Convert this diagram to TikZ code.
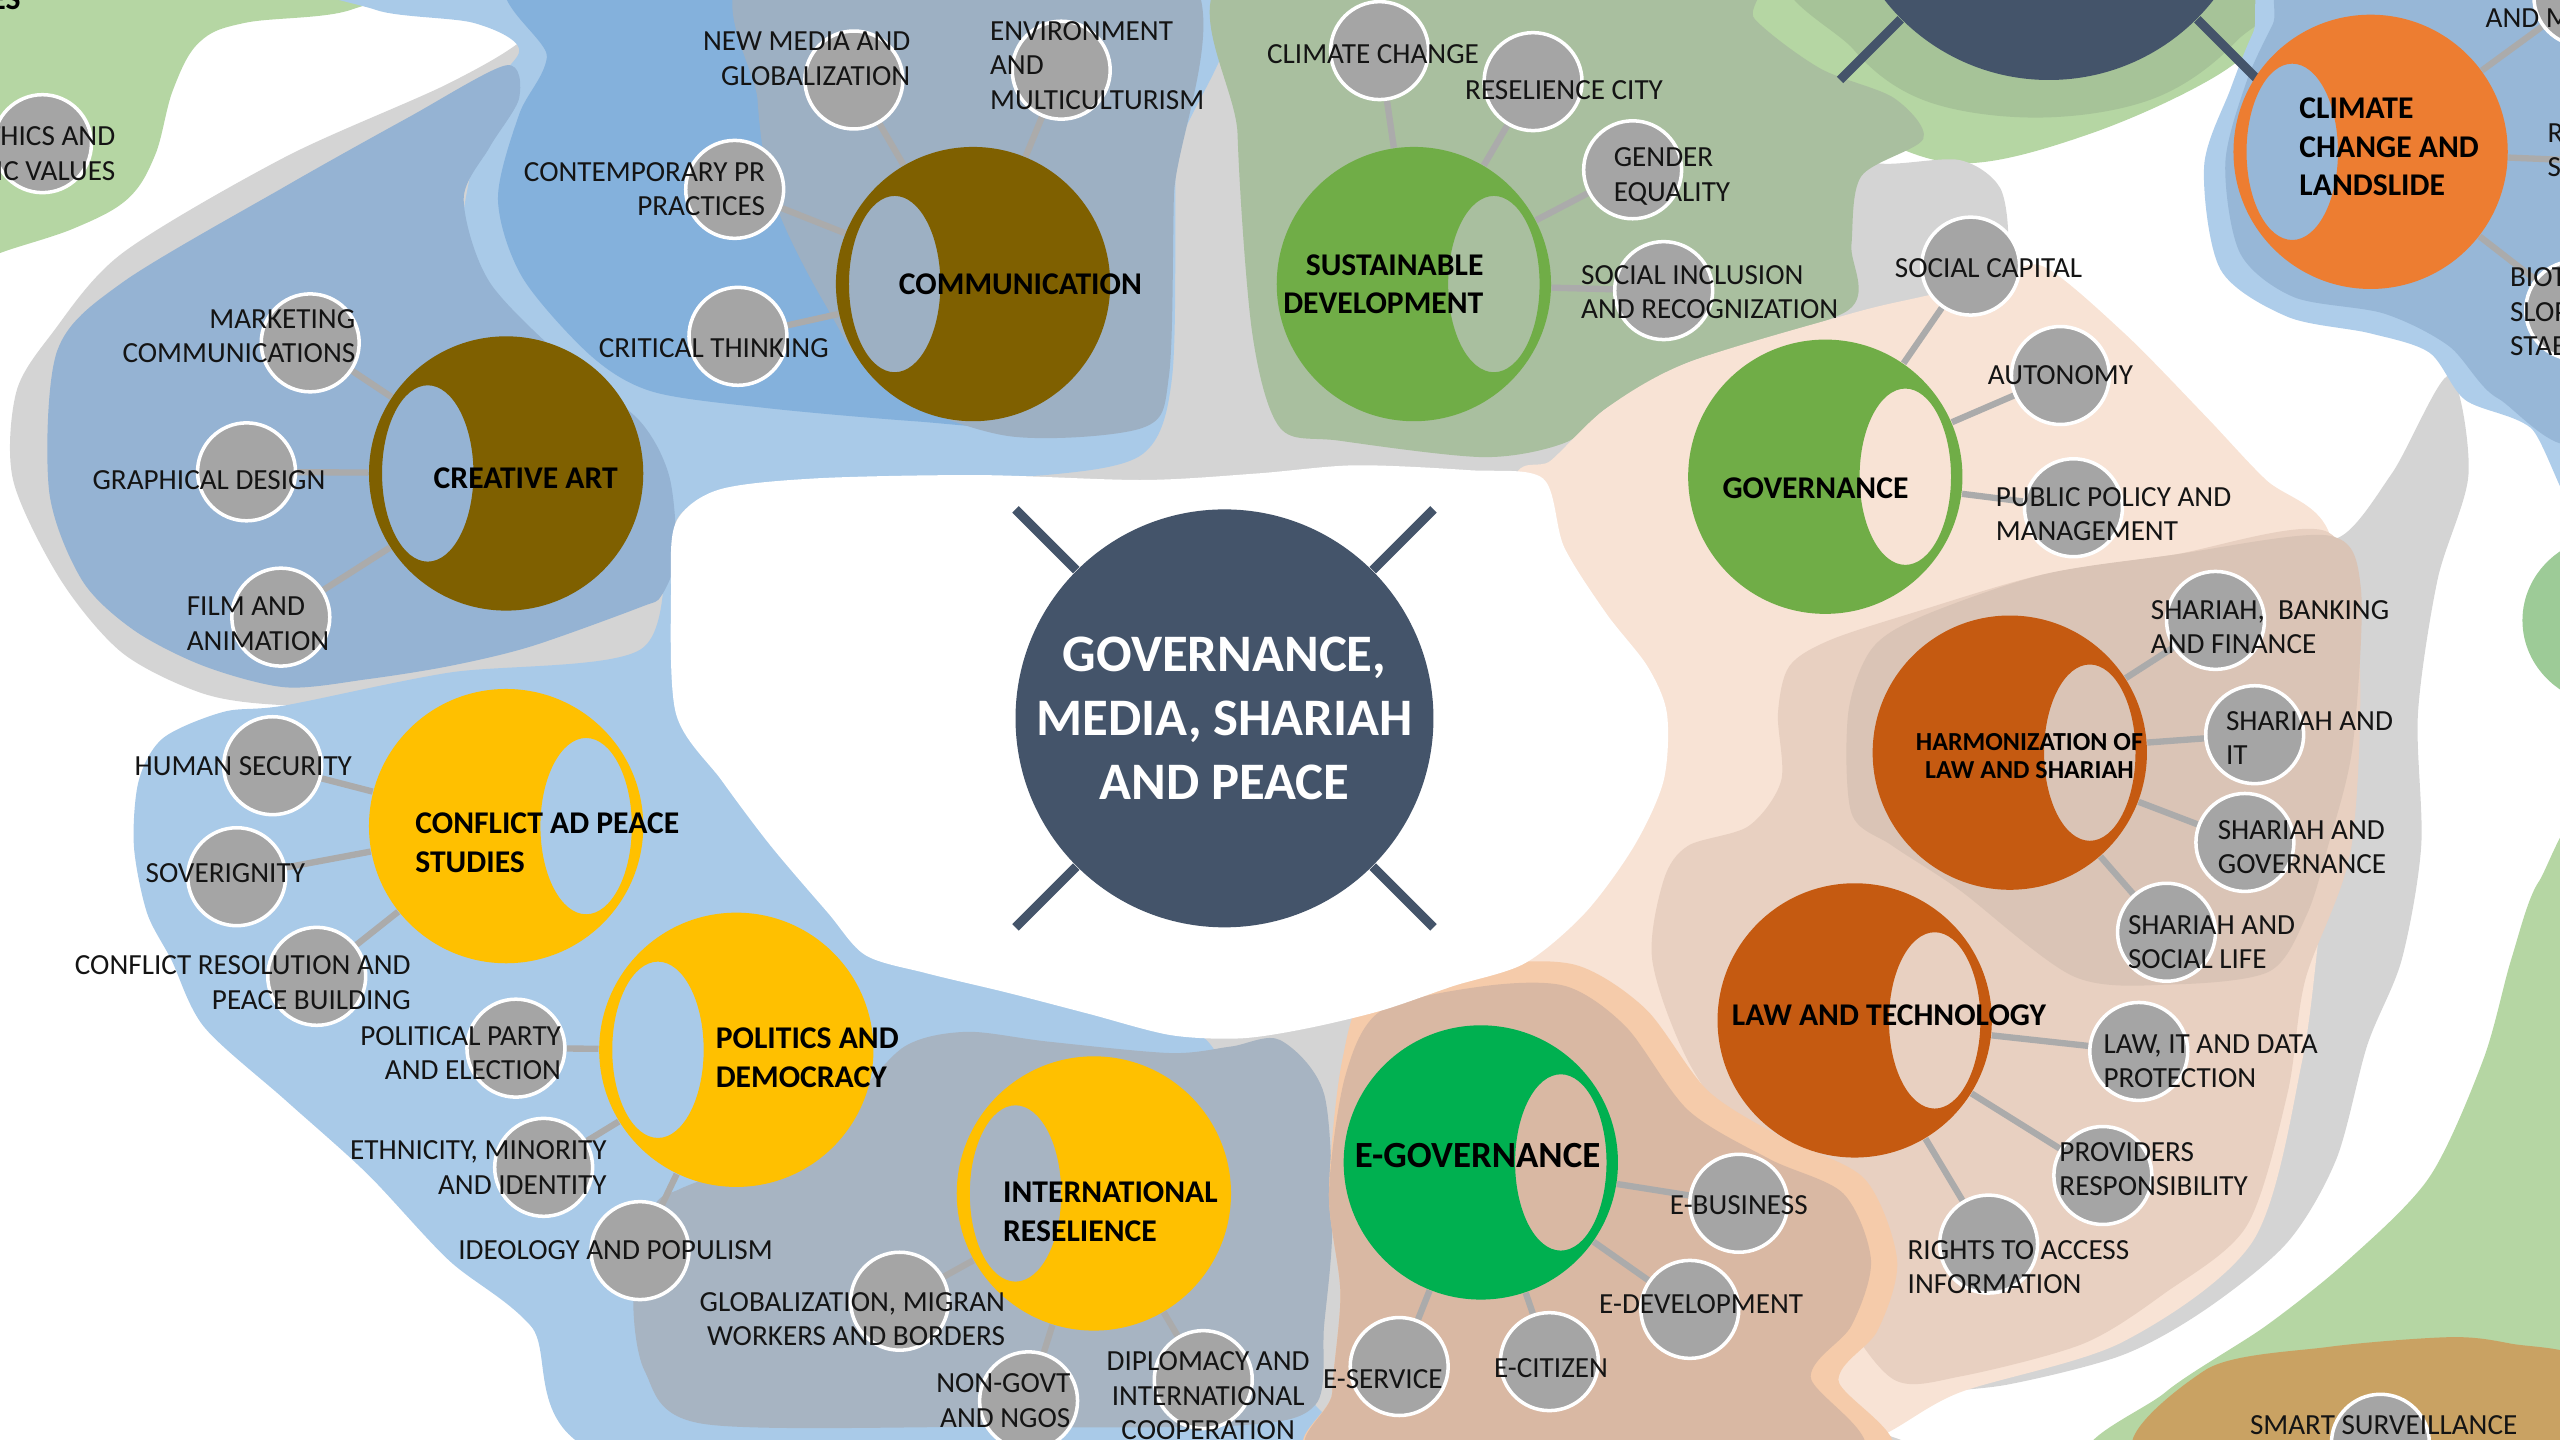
\documentclass[tikz,border=0pt]{standalone}
\usepackage{fontspec}
\setmainfont{Carlito}
\usetikzlibrary{calc}
\pgfdeclarelayer{regions}
\pgfdeclarelayer{links}
\pgfsetlayers{regions,links,main}

\definecolor{HubClr}{HTML}{44546A}
\definecolor{BrownClr}{HTML}{7F6000}
\definecolor{LeafClr}{HTML}{70AD47}
\definecolor{EGovClr}{HTML}{00B050}
\definecolor{OrangeClr}{HTML}{ED7D31}
\definecolor{RustClr}{HTML}{C55A11}
\definecolor{GoldClr}{HTML}{FFC000}
\definecolor{SubClr}{HTML}{A5A5A5}
\definecolor{LinkClr}{HTML}{ABABAB}
\definecolor{TextClr}{HTML}{141414}
\definecolor{MintArea}{HTML}{B5D6A3}
\definecolor{MossArea}{HTML}{A6C398}
\definecolor{GreyArea}{HTML}{D4D4D4}
\definecolor{SkyArea}{HTML}{A9CAE8}
\definecolor{SteelArea}{HTML}{95B3D3}
\definecolor{MidArea}{HTML}{84B1DC}
\definecolor{SlateArea}{HTML}{9DB0C3}
\definecolor{SageArea}{HTML}{A9BF9F}
\definecolor{PeachArea}{HTML}{F8E3D5}
\definecolor{SandArea}{HTML}{E8D0C1}
\definecolor{TanArea}{HTML}{DAC4B6}
\definecolor{IntlArea}{HTML}{A7B4C2}
\definecolor{ApricotArea}{HTML}{F5CBAA}
\definecolor{ClayArea}{HTML}{D9B8A3}
\definecolor{CloudArea}{HTML}{AECDEA}
\definecolor{LakeArea}{HTML}{97B7D7}
\definecolor{OchreArea}{HTML}{C9A263}
\definecolor{FernArea}{HTML}{9DCB97}

\newcommand\pxu{0.016327cm}
\newcommand\ring[3]{\fill[#2, even odd rule] (#1.center) circle[radius=84] ($(#1.center)+(#3,0)$) ellipse[x radius=28, y radius=54];}

\tikzset{
  link/.style={draw=LinkClr, line width=1.8pt},
  spoke/.style={draw=HubClr, line width=2.6pt},
  hub/.style={circle, fill=HubClr, minimum size=256*\pxu, inner sep=0pt},
  topic/.style={circle, minimum size=168*\pxu, inner sep=0pt},
  sub/.style={circle, fill=SubClr, draw=white, line width=1pt, minimum size=60*\pxu, inner sep=0pt},
  toptext/.style={font=\fontsize{9}{11}\selectfont\bfseries, text=black, inner sep=0pt},
  subtext/.style={font=\fontsize{8.3}{9.8}\selectfont, text=TextClr, inner sep=0pt},
}

\begin{document}
\begin{tikzpicture}[x=\pxu, y=-\pxu]
\useasboundingbox (0,0) rectangle (1568,882);
\clip (0,0) rectangle (1568,882);

\begin{pgfonlayer}{regions}
\fill[MintArea] plot[smooth cycle, tension=.6] coordinates {(-20,-20) (250,-20) (215,6) (150,14) (122,26) (106,55) (95,95) (78,122) (45,140) (0,155) (-20,165)};
\fill[MintArea] plot[smooth cycle, tension=.6] coordinates {(740,-20) (1430,-20) (1400,12) (1355,48) (1280,82) (1205,100) (1150,85) (1100,55) (1060,22) (980,8) (850,6) (760,8)};
\fill[MossArea] plot[smooth cycle, tension=.6] coordinates {(1110,-20) (1395,-20) (1370,25) (1320,60) (1250,72) (1180,62) (1135,30)};
\fill[GreyArea] plot[smooth cycle, tension=.5] coordinates {(325,20) (345,-20) (1000,-20) (1060,40) (1110,85) (1150,100) (1200,98) (1225,115) (1230,150) (1222,178) (1300,235) (1385,305) (1430,330) (1465,290) (1500,230) (1512,290) (1493,355) (1481,437) (1483,518) (1471,588) (1450,640) (1431,710) (1401,761) (1351,802) (1300,830) (1230,848) (1170,855) (1135,870) (1130,895) (420,895) (420,600) (380,470) (260,432) (175,432) (125,425) (75,400) (37,355) (8,294) (10,240) (32,204) (75,155) (175,96) (275,51)};
\fill[SkyArea] plot[smooth cycle, tension=.5] coordinates {(195,-20) (722,-20) (720,100) (718,230) (700,278) (640,291) (540,293) (470,300) (420,312) (400,340) (360,290) (300,230) (282,150) (300,60) (318,30) (290,14) (230,6)};
\fill[SkyArea] plot[smooth cycle, tension=.5] coordinates {(100,452) (137,436) (175,432) (275,412) (392,398) (412,330) (450,340) (520,470) (580,570) (660,610) (720,628) (745,645) (775,720) (800,850) (808,895) (385,895) (325,812) (275,772) (225,719) (175,674) (125,629) (105,588) (90,559) (82,518) (85,478)};
\fill[SteelArea] plot[smooth cycle, tension=.5] coordinates {(175,114) (250,72) (310,40) (318,60) (300,90) (284,122) (300,173) (350,224) (392,258) (410,292) (414,340) (405,365) (392,372) (325,396) (275,408) (225,416) (175,421) (125,408) (82,386) (50,355) (30,300) (35,215) (75,173)};
\fill[MidArea] plot[smooth cycle, tension=.5] coordinates {(330,-20) (705,-20) (705,150) (700,240) (640,262) (560,258) (470,250) (400,240) (362,218) (320,170) (305,122) (318,70) (335,35)};
\fill[SlateArea] plot[smooth cycle, tension=.5] coordinates {(465,-20) (722,-20) (719,120) (716,230) (700,262) (617,267) (542,238) (504,184) (474,122) (464,61)};
\fill[SageArea] plot[smooth cycle, tension=.5] coordinates {(760,-20) (1055,-20) (1075,12) (1115,42) (1160,60) (1178,85) (1140,108) (1134,150) (1132,190) (1034,222) (984,250) (959,271) (909,280) (821,270) (784,262) (767,204) (758,82)};
\fill[PeachArea] plot[smooth cycle, tension=.5] coordinates {(925,300) (950,282) (984,250) (1034,222) (1134,192) (1176,182) (1222,172) (1251,163) (1301,204) (1351,255) (1388,294) (1426,325) (1442,420) (1422,560) (1410,650) (1380,760) (1300,822) (1200,853) (1150,880) (1110,880) (1000,700) (940,620) (915,450)};
\fill[SandArea] plot[smooth cycle, tension=.5] coordinates {(1096,408) (1121,392) (1176,374) (1251,352) (1330,340) (1426,326) (1445,400) (1440,520) (1412,600) (1401,670) (1376,751) (1326,792) (1276,823) (1201,843) (1160,845) (1125,800) (1080,720) (1034,650) (1012,588) (1019,539) (1034,518) (1071,506) (1091,478) (1089,437)};
\fill[TanArea] plot[smooth cycle, tension=.5] coordinates {(1132,437) (1146,398) (1176,378) (1251,352) (1330,340) (1426,328) (1446,360) (1441,457) (1426,518) (1413,560) (1390,595) (1330,603) (1270,598) (1200,545) (1159,518) (1134,498)};
\fill[IntlArea] plot[smooth cycle, tension=.5] coordinates {(388,790) (400,740) (417,728) (467,708) (517,678) (554,641) (592,632) (642,638) (717,645) (754,641) (784,637) (811,670) (816,751) (811,812) (806,860) (760,873) (600,874) (430,872) (395,840)};
\fill[ApricotArea] plot[smooth cycle, tension=.5] coordinates {(814,731) (822,650) (840,606) (909,591) (965,591) (1008,618) (1046,668) (1092,697) (1142,722) (1162,772) (1150,815) (1126,845) (1145,895) (819,895) (816,853) (821,792)};
\fill[ClayArea] plot[smooth cycle, tension=.5] coordinates {(814,731) (824,659) (846,619) (909,604) (959,604) (996,629) (1034,680) (1084,710) (1129,731) (1146,772) (1134,812) (1109,843) (1129,895) (819,895) (816,853) (821,792)};
\fill[CloudArea] plot[smooth cycle, tension=.5] coordinates {(1380,20) (1401,-20) (1585,-20) (1585,305) (1550,262) (1510,245) (1488,216) (1451,204) (1401,194) (1360,165) (1350,102) (1366,55)};
\fill[LakeArea] plot[smooth cycle, tension=.5] coordinates {(1392,15) (1410,-20) (1585,-20) (1585,258) (1530,244) (1500,212) (1460,192) (1405,182) (1372,155) (1363,100) (1376,50)};
\fill[FernArea] (1600,380) ellipse[x radius=55, y radius=52];
\fill[MintArea] plot[smooth cycle, tension=.5] coordinates {(1585,520) (1555,540) (1538,588) (1521,649) (1488,721) (1438,772) (1388,812) (1326,853) (1290,895) (1585,895)};
\fill[OchreArea] plot[smooth cycle, tension=.5] coordinates {(1316,895) (1351,839) (1426,825) (1501,819) (1538,823) (1585,835) (1585,895)};
\fill[white] plot[smooth cycle, tension=.5] coordinates {(414,320) (440,300) (500,293) (600,291) (700,294) (770,290) (830,285) (900,288) (945,293) (958,335) (984,376) (1009,408) (1021,437) (1019,478) (1001,518) (971,559) (934,590) (890,604) (846,619) (800,630) (760,636) (717,634) (667,621) (617,608) (567,596) (530,585) (507,559) (472,518) (442,478) (414,437) (411,361)};
\end{pgfonlayer}

\node[hub] (hub) at (750,440) {};
\node[hub] (tophub) at (1255,-79) {};
\coordinate (hubNW) at (622,312);
\coordinate (hubNE) at (878,312);
\coordinate (hubSW) at (622,568);
\coordinate (hubSE) at (878,568);
\coordinate (topSW) at (1127,49);
\coordinate (topSE) at (1383,49);

\node[topic] (comm) at (596,174) {};
\node[topic] (creative) at (310,290) {};
\node[topic] (sust) at (866,174) {};
\node[topic] (gov) at (1118,292) {};
\node[topic] (climate) at (1452,93) {};
\node[topic] (harm) at (1231,461) {};
\node[topic] (lawtech) at (1136,625) {};
\node[topic] (conflict) at (310,506) {};
\node[topic] (politics) at (451,643) {};
\node[topic] (intl) at (670,731) {};
\node[topic] (egov) at (907,712) {};

\ring{comm}{BrownClr}{-48}
\ring{creative}{BrownClr}{-48}
\ring{sust}{LeafClr}{49}
\ring{gov}{LeafClr}{49}
\ring{climate}{OrangeClr}{-48}
\ring{harm}{RustClr}{49}
\ring{lawtech}{RustClr}{49}
\ring{conflict}{GoldClr}{49}
\ring{politics}{GoldClr}{-48}
\ring{intl}{GoldClr}{-48}
\ring{egov}{EGovClr}{49}

\node[sub] (newmedia) at (523,49) {};
\node[sub] (environ) at (650,43) {};
\node[sub] (contemp) at (450,116) {};
\node[sub] (critical) at (452,206) {};
\node[sub] (marketing) at (190,210) {};
\node[sub] (graphic) at (151,289) {};
\node[sub] (film) at (172,378) {};
\node[sub] (ethics) at (26,88) {};
\node[sub] (climchg) at (845,31) {};
\node[sub] (resilcity) at (939,50) {};
\node[sub] (gender) at (1000,104) {};
\node[sub] (inclusion) at (1019,178) {};
\node[sub] (socialcap) at (1207,163) {};
\node[sub] (autonomy) at (1262,230) {};
\node[sub] (policy) at (1270,311) {};
\node[sub] (andm) at (1582,-2) {};
\node[sub] (biot) at (1577,190) {};
\coordinate (offR) at (1620,100);
\node[sub] (banking) at (1357,380) {};
\node[sub] (sharit) at (1381,450) {};
\node[sub] (sharigov) at (1375,516) {};
\node[sub] (sharisoc) at (1327,571) {};
\node[sub] (lawit) at (1310,644) {};
\node[sub] (providers) at (1288,720) {};
\node[sub] (rights) at (1218,762) {};
\node[sub] (ebusiness) at (1065,737) {};
\node[sub] (edevel) at (1035,802) {};
\node[sub] (ecitizen) at (949,834) {};
\node[sub] (eservice) at (857,837) {};
\node[sub] (glob) at (551,797) {};
\node[sub] (ngo) at (630,858) {};
\node[sub] (diplomacy) at (737,845) {};
\node[sub] (ideology) at (392,766) {};
\node[sub] (ethnic) at (333,715) {};
\node[sub] (party) at (316,642) {};
\node[sub] (conres) at (194,598) {};
\node[sub] (sovereign) at (145,537) {};
\node[sub] (humansec) at (167,469) {};
\node[sub] (smart) at (1458,884) {};

\begin{pgfonlayer}{links}
\draw[spoke] (hubNW) -- (hub) (hubNE) -- (hub) (hubSW) -- (hub) (hubSE) -- (hub);
\draw[spoke] (topSW) -- (tophub) (topSE) -- (tophub);
\draw[link] (comm) -- (newmedia) (comm) -- (environ) (comm) -- (contemp) (comm) -- (critical);
\draw[link] (creative) -- (marketing) (creative) -- (graphic) (creative) -- (film);
\draw[link] (sust) -- (climchg) (sust) -- (resilcity) (sust) -- (gender) (sust) -- (inclusion);
\draw[link] (gov) -- (socialcap) (gov) -- (autonomy) (gov) -- (policy);
\draw[link] (climate) -- (andm) (climate) -- (offR) (climate) -- (biot);
\draw[link] (harm) -- (banking) (harm) -- (sharit) (harm) -- (sharigov) (harm) -- (sharisoc);
\draw[link] (lawtech) -- (lawit) (lawtech) -- (providers) (lawtech) -- (rights);
\draw[link] (egov) -- (ebusiness) (egov) -- (edevel) (egov) -- (ecitizen) (egov) -- (eservice);
\draw[link] (intl) -- (glob) (intl) -- (ngo) (intl) -- (diplomacy);
\draw[link] (politics) -- (party) (politics) -- (ethnic) (politics) -- (ideology);
\draw[link] (conflict) -- (humansec) (conflict) -- (sovereign) (conflict) -- (conres);
\end{pgfonlayer}

\node[font=\fontsize{15}{18.2}\selectfont\bfseries, text=white, align=center, inner sep=0pt] (hub-l) at (750,440) {GOVERNANCE,\\MEDIA, SHARIAH\\AND PEACE};

\node[toptext] (comm-l) at (625,174) {COMMUNICATION};
\node[toptext] (creative-l) at (322,293) {CREATIVE ART};
\node[toptext, anchor=east, align=right] (sust-l) at (909,174) {SUSTAINABLE\\DEVELOPMENT};
\node[toptext] (gov-l) at (1112,299) {GOVERNANCE};
\node[toptext, anchor=west, align=left] (climate-l) at (1408,90) {CLIMATE\\CHANGE AND\\LANDSLIDE};
\node[toptext, font=\fontsize{7.4}{8}\selectfont\bfseries, align=center] (harm-l) at (1243,463) {HARMONIZATION OF\\LAW AND SHARIAH};
\node[toptext] (lawtech-l) at (1157,622) {LAW AND TECHNOLOGY};
\node[toptext, anchor=west, align=left] (conflict-l) at (254,516) {CONFLICT AD PEACE\\STUDIES};
\node[toptext, anchor=west, align=left] (politics-l) at (438,648) {POLITICS AND\\DEMOCRACY};
\node[toptext, anchor=west, align=left] (intl-l) at (614,742) {INTERNATIONAL\\RESELIENCE};
\node[toptext, font=\fontsize{10.5}{12}\selectfont\bfseries] (egov-l) at (905,708) {E-GOVERNANCE};
\node[toptext, anchor=base east] (corner-l) at (13,6) {ES};

\node[subtext, anchor=east, align=right] (newmedia-l) at (558,36) {NEW MEDIA AND\\GLOBALIZATION};
\node[subtext, anchor=west, align=left] (environ-l) at (606,40) {ENVIRONMENT\\AND\\MULTICULTURISM};
\node[subtext, anchor=east, align=right] (contemp-l) at (469,116) {CONTEMPORARY PR\\PRACTICES};
\node[subtext, anchor=east] (critical-l) at (508,213) {CRITICAL THINKING};
\node[subtext, anchor=east, align=right] (marketing-l) at (218,206) {MARKETING\\COMMUNICATIONS};
\node[subtext] (graphic-l) at (128,294) {GRAPHICAL DESIGN};
\node[subtext, anchor=west, align=left] (film-l) at (114,382) {FILM AND\\ANIMATION};
\node[subtext, anchor=east, align=right] (ethics-l) at (71,94) {ETHICS AND\\ISLAMIC VALUES};
\node[subtext] (climchg-l) at (841,33) {CLIMATE CHANGE};
\node[subtext] (resilcity-l) at (958,55) {RESELIENCE CITY};
\node[subtext, anchor=west, align=left] (gender-l) at (988,108) {GENDER\\EQUALITY};
\node[subtext, anchor=west, align=left] (inclusion-l) at (968,179) {SOCIAL INCLUSION\\AND RECOGNIZATION};
\node[subtext] (socialcap-l) at (1218,164) {SOCIAL CAPITAL};
\node[subtext] (autonomy-l) at (1262,230) {AUTONOMY};
\node[subtext, anchor=west, align=left] (policy-l) at (1222,315) {PUBLIC POLICY AND\\MANAGEMENT};
\node[subtext, anchor=west] (andm-l) at (1522,11) {AND M};
\node[subtext, anchor=west, align=left] (offR-l) at (1560,92) {R\\S};
\node[subtext, anchor=west, align=left] (biot-l) at (1537,191) {BIOT\\SLOP\\STAB};
\node[subtext, anchor=west, align=left] (banking-l) at (1317,384) {SHARIAH,\ \ BANKING\\AND FINANCE};
\node[subtext, anchor=west, align=left] (sharit-l) at (1363,452) {SHARIAH AND\\IT};
\node[subtext, anchor=west, align=left] (sharigov-l) at (1358,519) {SHARIAH AND\\GOVERNANCE};
\node[subtext, anchor=west, align=left] (sharisoc-l) at (1303,577) {SHARIAH AND\\SOCIAL LIFE};
\node[subtext, anchor=west, align=left] (lawit-l) at (1288,650) {LAW, IT AND DATA\\PROTECTION};
\node[subtext, anchor=west, align=left] (providers-l) at (1261,716) {PROVIDERS\\RESPONSIBILITY};
\node[subtext, anchor=west, align=left] (rights-l) at (1168,776) {RIGHTS TO ACCESS\\INFORMATION};
\node[subtext] (ebusiness-l) at (1065,738) {E-BUSINESS};
\node[subtext] (edevel-l) at (1042,799) {E-DEVELOPMENT};
\node[subtext] (ecitizen-l) at (950,838) {E-CITIZEN};
\node[subtext] (eservice-l) at (847,845) {E-SERVICE};
\node[subtext, anchor=east, align=right] (glob-l) at (616,808) {GLOBALIZATION, MIGRAN\\WORKERS AND BORDERS};
\node[subtext, anchor=east, align=right] (ngo-l) at (656,858) {NON-GOVT\\AND NGOS};
\node[subtext, align=center] (diplomacy-l) at (740,855) {DIPLOMACY AND\\INTERNATIONAL\\COOPERATION};
\node[subtext] (ideology-l) at (377,766) {IDEOLOGY AND POPULISM};
\node[subtext, anchor=east, align=right] (ethnic-l) at (372,715) {ETHNICITY, MINORITY\\AND IDENTITY};
\node[subtext, anchor=east, align=right] (party-l) at (344,645) {POLITICAL PARTY\\AND ELECTION};
\node[subtext, anchor=east, align=right] (conres-l) at (252,602) {CONFLICT RESOLUTION AND\\PEACE BUILDING};
\node[subtext] (sovereign-l) at (138,535) {SOVERIGNITY};
\node[subtext] (humansec-l) at (149,469) {HUMAN SECURITY};
\node[subtext] (smart-l) at (1460,873) {SMART SURVEILLANCE};
\end{tikzpicture}
\end{document}
